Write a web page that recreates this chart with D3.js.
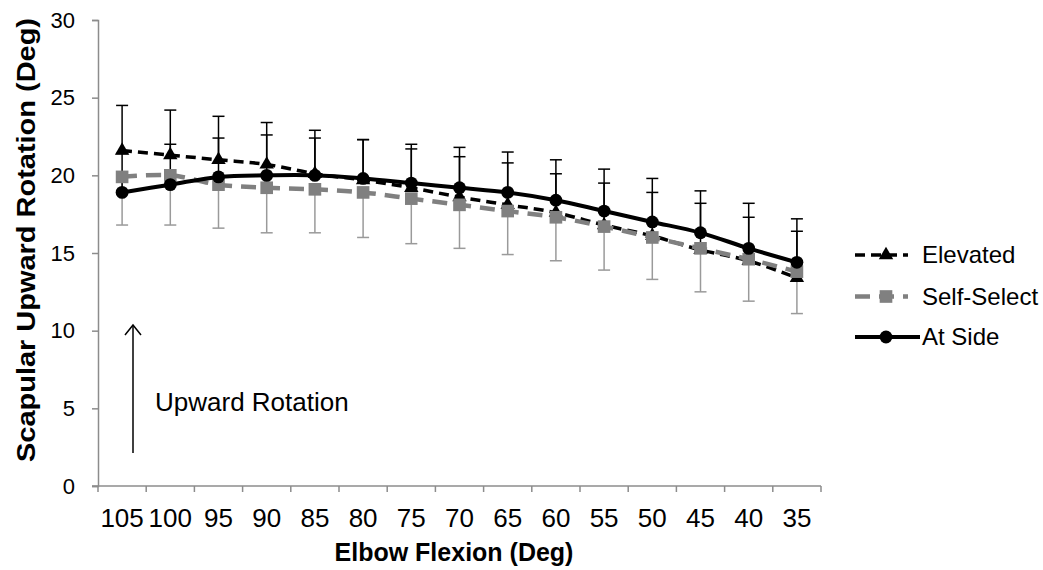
<!DOCTYPE html>
<html>
<head>
<meta charset="utf-8" />
<title>Scapular upward rotation</title>
<script src="https://d3js.org/d3.v7.min.js"></script>
<style>
  body { margin: 0; background: #fff; }
  text { font-family: "Liberation Sans", Arial, sans-serif; }
</style>
</head>
<body>
<svg id="chart" width="1043" height="570"></svg>
<script>
// elbow flexion angles (x categories)
var flexion = [105, 100, 95, 90, 85, 80, 75, 70, 65, 60, 55, 50, 45, 40, 35];
var yTicks = [0, 5, 10, 15, 20, 25, 30];

// series means
var elevated   = [21.6, 21.3, 21.0, 20.7, 20.1, 19.7, 19.2, 18.6, 18.1, 17.6, 16.8, 16.1, 15.2, 14.5, 13.4];
var selfSelect = [19.9, 20.0, 19.4, 19.2, 19.1, 18.9, 18.5, 18.1, 17.7, 17.3, 16.7, 16.0, 15.3, 14.6, 13.8];
var atSide     = [18.9, 19.4, 19.9, 20.0, 20.0, 19.8, 19.5, 19.2, 18.9, 18.4, 17.7, 17.0, 16.3, 15.3, 14.4];

// error bar sizes (elevated + at side drawn up, self-select drawn down)
var elevatedSD   = [2.9, 2.9, 2.8, 2.7, 2.3, 2.6, 2.5, 2.6, 2.7, 2.5, 2.7, 2.8, 3.0, 2.8, 3.0];
var atSideSD     = [2.5, 2.6, 2.5, 2.6, 2.9, 2.5, 2.5, 2.6, 2.6, 2.6, 2.7, 2.8, 2.7, 2.9, 2.8];
var selfSelectSD = [3.1, 3.2, 2.8, 2.9, 2.8, 2.9, 2.9, 2.8, 2.8, 2.8, 2.8, 2.7, 2.8, 2.7, 2.7];

var series = [
  {name: "Elevated", values: elevated, sd: elevatedSD, dir: 1, color: "#000", bar: "#000",
   dash: "10,6", width: 3.5, symbol: d3.symbolTriangle, size: 90},
  {name: "Self-Select", values: selfSelect, sd: selfSelectSD, dir: -1, color: "#808080", bar: "#9a9a9a",
   dash: "15,9", width: 4.5, symbol: d3.symbolSquare, size: 160},
  {name: "At Side", values: atSide, sd: atSideSD, dir: 1, color: "#000", bar: "#000",
   dash: null, width: 4, symbol: d3.symbolCircle, size: 130}
];

var svg = d3.select("#chart");
var mLeft = 98, mRight = 821, mTop = 20, mBottom = 486;

var x = d3.scaleBand().domain(flexion).range([mLeft, mRight]);
var y = d3.scaleLinear().domain([0, 30]).range([mBottom, mTop]);
var axisColor = "#8c8c8c";

// y axis
var yAxis = svg.append("g").attr("transform", "translate(" + mLeft + ",0)")
  .call(d3.axisLeft(y).tickValues(yTicks).tickSize(6).tickPadding(17));
yAxis.select(".domain").attr("stroke", axisColor).attr("stroke-width", 1.5);
yAxis.selectAll(".tick line").attr("stroke", axisColor).attr("stroke-width", 1.5);
yAxis.selectAll(".tick text").attr("font-size", 22).attr("fill", "#000")
  .attr("font-family", "Liberation Sans, Arial, sans-serif");

// x axis: ticks between categories
var xAxis = svg.append("g").attr("transform", "translate(0," + mBottom + ")");
xAxis.append("line").attr("x1", mLeft - 6).attr("x2", mRight)
  .attr("stroke", axisColor).attr("stroke-width", 1.5);
var bounds = flexion.map(function(d) { return x(d); }).concat([mRight]);
xAxis.selectAll(".xt").data(bounds).enter().append("line")
  .attr("x1", function(d) { return d; }).attr("x2", function(d) { return d; })
  .attr("y1", 0).attr("y2", 6).attr("stroke", axisColor).attr("stroke-width", 1.5);
xAxis.selectAll(".xl").data(flexion).enter().append("text")
  .attr("x", function(d) { return x(d) + x.bandwidth() / 2; })
  .attr("y", 41).attr("text-anchor", "middle").attr("font-size", 26)
  .text(function(d) { return d; });

// axis titles
svg.append("text").attr("transform", "translate(35,240) rotate(-90)")
  .attr("text-anchor", "middle").attr("font-size", 25).attr("font-weight", "bold")
  .attr("textLength", 444).attr("lengthAdjust", "spacingAndGlyphs")
  .text("Scapular Upward Rotation (Deg)");
svg.append("text").attr("x", 454).attr("y", 561)
  .attr("text-anchor", "middle").attr("font-size", 25).attr("font-weight", "bold")
  .text("Elbow Flexion (Deg)");

var cx = function(i) { return x(flexion[i]) + x.bandwidth() / 2; };
var line = d3.line().x(function(d, i) { return cx(i); }).y(function(d) { return y(d); })
  .curve(d3.curveCatmullRom.alpha(0.5));

// error bars
series.forEach(function(s) {
  var g = svg.append("g");
  s.values.forEach(function(v, i) {
    var end = y(v + s.dir * s.sd[i]);
    g.append("line").attr("x1", cx(i)).attr("x2", cx(i)).attr("y1", y(v)).attr("y2", end)
      .attr("stroke", s.bar).attr("stroke-width", 1.5);
    g.append("line").attr("x1", cx(i) - 6).attr("x2", cx(i) + 6).attr("y1", end).attr("y2", end)
      .attr("stroke", s.bar).attr("stroke-width", 1.5);
  });
});

// lines and markers
series.forEach(function(s) {
  svg.append("path").attr("d", line(s.values)).attr("fill", "none")
    .attr("stroke", s.color).attr("stroke-width", s.width)
    .attr("stroke-dasharray", s.dash);
  svg.append("g").selectAll("path").data(s.values).enter().append("path")
    .attr("d", d3.symbol().type(s.symbol).size(s.size))
    .attr("transform", function(d, i) { return "translate(" + cx(i) + "," + y(d) + ")"; })
    .attr("fill", s.color);
});

// legend
var legY = [255, 296.5, 337];
series.forEach(function(s, i) {
  var g = svg.append("g").attr("transform", "translate(0," + legY[i] + ")");
  g.append("line").attr("x1", 855).attr("x2", s.dash ? 908 : 920).attr("y1", 0).attr("y2", 0)
    .attr("stroke", s.color).attr("stroke-width", s.width).attr("stroke-dasharray", s.dash);
  g.append("path").attr("d", d3.symbol().type(s.symbol).size(s.size))
    .attr("transform", "translate(886,0)").attr("fill", s.color);
  g.append("text").attr("x", 922).attr("y", 0).attr("dy", "0.35em")
    .attr("font-size", 24).text(s.name);
});

// annotation arrow
svg.append("line").attr("x1", 133).attr("x2", 133).attr("y1", 453).attr("y2", 326)
  .attr("stroke", "#000").attr("stroke-width", 1.5);
svg.append("path").attr("d", "M125,335 L133,325 L141,335").attr("fill", "none")
  .attr("stroke", "#000").attr("stroke-width", 1.5);
svg.append("text").attr("x", 155).attr("y", 411).attr("font-size", 26).text("Upward Rotation");
</script>
</body>
</html>
